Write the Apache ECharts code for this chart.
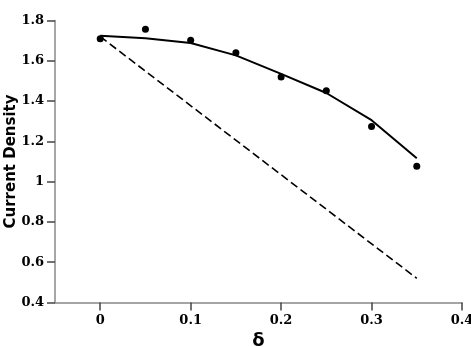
<!DOCTYPE html>
<html>
<head>
<meta charset="utf-8">
<script src="https://cdn.jsdelivr.net/npm/echarts@6/dist/echarts.min.js"></script>
<style>html,body{margin:0;padding:0;background:#fff}#main{width:471px;height:347px}</style>
</head>
<body>
<div id="main"></div>
<script>
'use strict';
var delta = [0, 0.05, 0.1, 0.15, 0.2, 0.25, 0.3, 0.35];
var measured = [1.71, 1.757, 1.702, 1.64, 1.52, 1.451, 1.274, 1.076];
var fitted = [1.724, 1.712, 1.688, 1.627, 1.535, 1.44, 1.305, 1.116];
var linearX = [0, 0.35];
var linearY = [1.72, 0.52];
var xTicks = [0, 0.1, 0.2, 0.3, 0.4];

function pairs(xs, ys){
	return xs.map(function(x, i){ return [x, ys[i]]; });
}

var labelFont = {color:'#000', fontFamily:'DejaVu Serif', fontWeight:'bold', fontSize:13};
var chart = echarts.init(document.getElementById('main'));
chart.setOption({
	animation:false,
	grid:{left:55, right:9, top:20.5, bottom:44.5, containLabel:false, outerBoundsMode:'none'},
	xAxis:{
		type:'value', min:-0.05, max:0.4, interval:0.1,
		name:'δ', nameLocation:'middle', nameGap:30, nameMoveOverlap:false,
		nameTextStyle:{fontFamily:'DejaVu Sans', fontWeight:'bold', fontSize:18, color:'#000'},
		axisLine:{onZero:false, lineStyle:{color:'#888', width:1.5}},
		axisTick:{show:true, length:8, lineStyle:{color:'#444', width:1.5}, customValues:xTicks},
		axisLabel:Object.assign({margin:12, customValues:xTicks}, labelFont),
		splitLine:{show:false}
	},
	yAxis:{
		type:'value', min:0.4, max:1.8, interval:0.2,
		name:'Current Density', nameLocation:'middle', nameGap:36, nameMoveOverlap:false,
		nameTextStyle:{fontFamily:'DejaVu Sans', fontWeight:'bold', fontSize:15, color:'#000'},
		axisLine:{show:true, onZero:false, lineStyle:{color:'#888', width:1.5}},
		axisTick:{show:true, inside:false, length:8, lineStyle:{color:'#444', width:1.5}},
		axisLabel:Object.assign({margin:11, formatter:function(v){ return +v.toFixed(1) + ''; }}, labelFont),
		splitLine:{show:false}
	},
	series:[{
		type:'line', data:pairs(delta, fitted), symbol:'none',
		lineStyle:{color:'#000', width:2}
	},{
		type:'line', data:pairs(linearX, linearY), symbol:'none',
		lineStyle:{color:'#000', width:1.6, type:[8,4]}
	},{
		type:'scatter', data:pairs(delta, measured), symbolSize:7,
		itemStyle:{color:'#000', opacity:1}
	}]
});
</script>
</body>
</html>
